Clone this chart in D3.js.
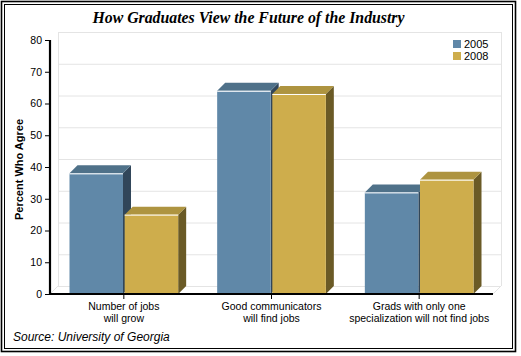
<!DOCTYPE html>
<html><head><meta charset="utf-8">
<script src="https://cdn.jsdelivr.net/npm/d3@7"></script>
<style>body{margin:0;background:#fff}svg{display:block}</style>
</head><body><svg id="c" width="521" height="356"></svg>
<script>
const categories = [["Number of jobs","will grow"],["Good communicators","will find jobs"],["Grads with only one","specialization will not find jobs"]];
const seriesNames = ["2005","2008"];
const values2005 = [38, 64, 32];
const values2008 = [25, 63, 36];
const yTicks = [0,10,20,30,40,50,60,70,80];
const title = "How Graduates View the Future of the Industry";
const yTitle = "Percent Who Agree";
const source = "Source: University of Georgia";

const colors = {
  "2005": {front:"#6088a8", top:"#4f7189", side:"#31465a"},
  "2008": {front:"#cead4c", top:"#ae9440", side:"#6a5a26"}
};

const svg = d3.select("#c");
const DX = 8, DY = 8;
const x = d3.scaleBand().domain(d3.range(categories.length)).range([50, 493]).padding(0);
const inner = d3.scaleBand().domain(seriesNames).range([19.5, x.bandwidth()-19.5]).paddingInner(0.03);
const y = d3.scaleLinear().domain([0,80]).range([294, 40]);

// borders
svg.append("rect").attr("x",1.5).attr("y",1.5).attr("width",514).attr("height",350).attr("fill","none").attr("stroke","#000").attr("stroke-width",1.6);
svg.append("rect").attr("x",4.5).attr("y",4.5).attr("width",508).attr("height",344).attr("fill","none").attr("stroke","#000").attr("stroke-width",1);

// title
svg.append("text").attr("x",248.5).attr("y",22.5).attr("text-anchor","middle")
  .style("font-family","'Liberation Serif','Times New Roman',serif").style("font-weight","bold").style("font-style","italic").style("font-size","15.8px")
  .text(title);

// back wall
const g0 = svg.append("g").attr("stroke","#e4e4e4").attr("fill","none").attr("stroke-width",1);
const x0 = x.range()[0], x1 = x.range()[1];
yTicks.forEach(t => {
  g0.append("line").attr("x1",x0+DX).attr("x2",x1+DX).attr("y1",y(t)-DY+0.5).attr("y2",y(t)-DY+0.5);
});
g0.append("line").attr("x1",x0+DX+0.5).attr("x2",x0+DX+0.5).attr("y1",y(80)-DY).attr("y2",y(0)-DY);
g0.append("line").attr("x1",x1+DX+0.5).attr("x2",x1+DX+0.5).attr("y1",y(80)-DY).attr("y2",y(0)-DY);
g0.append("line").attr("x1",x0).attr("y1",y(0)).attr("x2",x0+DX).attr("y2",y(0)-DY);
g0.append("line").attr("x1",x1).attr("y1",y(0)).attr("x2",x1+DX).attr("y2",y(0)-DY);

// bars
const data = categories.map((c,i)=>({i, vals:[{s:"2005",v:values2005[i]},{s:"2008",v:values2008[i]}]}));
const groups = svg.append("g").selectAll("g").data(data).join("g").attr("transform",d=>`translate(${x(d.i)},0)`);
groups.each(function(d){
  const g = d3.select(this);
  d.vals.forEach(b => {
    const bx0 = inner(b.s), bx1 = bx0 + inner.bandwidth();
    const top = y(b.v), bot = y(0);
    const col = colors[b.s];
    g.append("path").attr("d",`M${bx1},${top}L${bx1+DX},${top-DY}L${bx1+DX},${bot-DY}L${bx1},${bot}Z`).attr("fill",col.side);
    g.append("path").attr("d",`M${bx0},${top}L${bx0+DX},${top-DY}L${bx1+DX},${top-DY}L${bx1},${top}Z`).attr("fill",col.top);
    g.append("rect").attr("x",bx0).attr("y",top).attr("width",bx1-bx0).attr("height",bot-top).attr("fill",col.front);
    g.append("line").attr("x1",bx0).attr("x2",bx1).attr("y1",top+0.5).attr("y2",top+0.5).attr("stroke","#fff").attr("stroke-width",1);
  });
});

// y axis
const yAxis = d3.axisLeft(y).tickValues(yTicks).tickSize(5).tickPadding(3);
const ya = svg.append("g").attr("transform","translate(50,0)").call(yAxis);
ya.select(".domain").attr("d",`M0,${y(80)}V${y(0)+1}`).attr("stroke","#000").attr("stroke-width",2.2);
ya.selectAll("text").style("font-family","'Liberation Sans',Arial,sans-serif").style("font-size","10.5px").attr("fill","#000");

// x axis
const xAxis = d3.axisBottom(x).tickSize(5).tickFormat("");
const xa = svg.append("g").attr("transform",`translate(0,${y(0)})`).call(xAxis);
xa.select(".domain").attr("d",`M${x0-1},0H${x1}`).attr("stroke","#000").attr("stroke-width",2.2);
xa.selectAll(".tick").each(function(i){
  const t = d3.select(this).append("text").attr("fill","#000").attr("text-anchor","middle")
    .style("font-family","'Liberation Sans',Arial,sans-serif").style("font-size","10.5px");
  categories[i].forEach((line,k)=>t.append("tspan").attr("x",0).attr("y",16+k*12).text(line));
});

// y title
svg.append("text").attr("transform","translate(23,169.5) rotate(-90)").attr("text-anchor","middle")
  .style("font-family","'Liberation Sans',Arial,sans-serif").style("font-weight","bold").style("font-size","11px").text(yTitle);

// legend
const lg = svg.append("g").selectAll("g").data(seriesNames).join("g").attr("transform",(d,i)=>`translate(453,${40+i*12})`);
lg.append("rect").attr("width",8).attr("height",8).attr("fill",d=>colors[d].front);
lg.append("text").attr("x",11).attr("y",7.5).style("font-family","'Liberation Sans',Arial,sans-serif").style("font-size","11px").text(d=>d);

// source
svg.append("text").attr("x",13).attr("y",341).style("font-family","'Liberation Sans',Arial,sans-serif").style("font-style","italic").style("font-size","12px").text(source);
</script></body></html>
